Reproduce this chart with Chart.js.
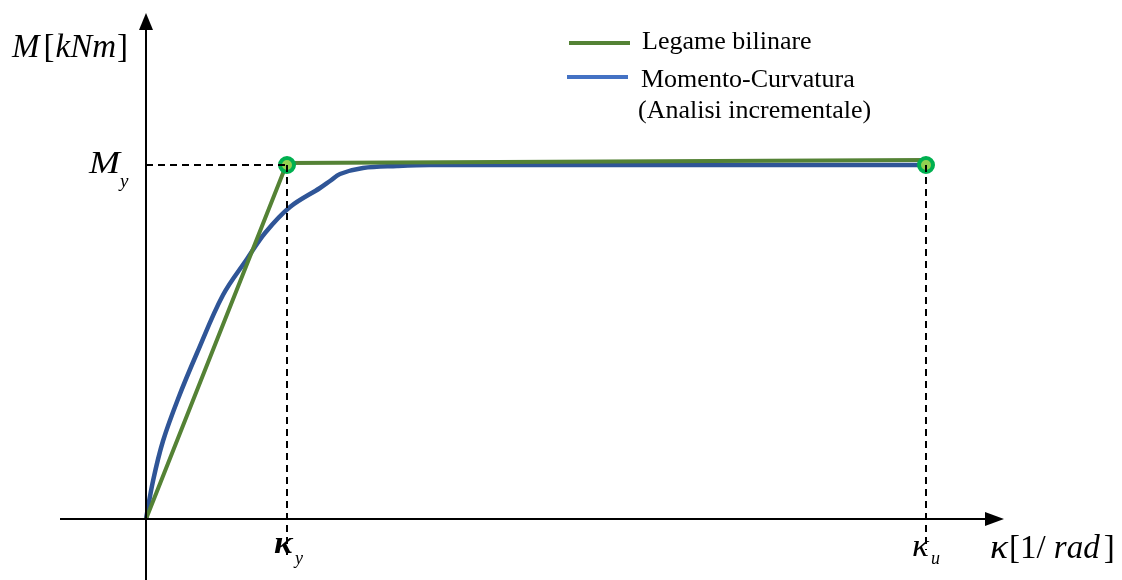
<!DOCTYPE html>
<html>
<head>
<meta charset="utf-8">
<script src="https://cdn.jsdelivr.net/npm/chart.js@4/dist/chart.umd.min.js"></script>
<style>
  html, body { margin: 0; padding: 0; background: #fff; }
  #wrap { width: 1122px; height: 580px; }
</style>
</head>
<body>
<div id="wrap"><canvas id="chart"></canvas></div>
<script>
// curvatura / momento (unita arbitrarie)
const kappaMC = [0, 0.07, 0.17, 0.32, 0.51, 0.77, 1.01, 1.19, 1.44, 1.74, 1.84, 1.94, 2.17, 2.51, 2.84, 7.80];
const momentMC = [0, 0.38, 0.78, 1.20, 1.66, 2.24, 2.60, 2.86, 3.12, 3.31, 3.38, 3.45, 3.51, 3.53, 3.54, 3.54];

const kappaBil = [0, 1.41, 7.80];
const momentBil = [0, 3.56, 3.59];

const kappaY = 1.41;
const kappaU = 7.80;
const My = 3.54;

const legendLabels = ['Legame bilinare', 'Momento-Curvatura', '(Analisi incrementale)'];

const toPts = (xs, ys) => xs.map((x, i) => ({ x: x, y: ys[i] }));

const serif = '"Liberation Serif", "Times New Roman", serif';

const overlay = {
  id: 'overlay',
  afterDraw(chart) {
    const ctx = chart.ctx;
    const xs = chart.scales.x, ys = chart.scales.y;
    const x0 = xs.getPixelForValue(0), y0 = ys.getPixelForValue(0);
    ctx.save();
    // assi
    ctx.strokeStyle = '#000';
    ctx.fillStyle = '#000';
    ctx.lineWidth = 2;
    ctx.beginPath();
    ctx.moveTo(x0, 580); ctx.lineTo(x0, 28);
    ctx.moveTo(60, y0); ctx.lineTo(988, y0);
    ctx.stroke();
    ctx.beginPath();
    ctx.moveTo(x0, 13); ctx.lineTo(x0 - 7, 30); ctx.lineTo(x0 + 7, 30); ctx.closePath();
    ctx.fill();
    ctx.beginPath();
    ctx.moveTo(1004, y0); ctx.lineTo(985, y0 - 7); ctx.lineTo(985, y0 + 7); ctx.closePath();
    ctx.fill();

    // etichette
    ctx.textBaseline = 'alphabetic';
    const put = (txt, x, y, size, style, sx) => {
      sx = sx || 1;
      ctx.font = style + ' ' + size + 'px ' + serif;
      ctx.save();
      ctx.translate(x, y);
      ctx.scale(sx, 1);
      ctx.fillText(txt, 0, 0);
      ctx.restore();
      return x + ctx.measureText(txt).width * sx;
    };
    let cx = put('M', 12, 57, 33, 'italic');
    cx = put('[', cx + 4, 57, 33, 'normal');
    cx = put('kNm', cx + 1, 57, 33, 'italic');
    put(']', cx + 1, 57, 33, 'normal');

    put('M', 89, 173, 31, 'italic', 1.2);
    put('y', 120, 187, 19, 'italic');

    put('\u03BA', 274, 553, 32, 'italic bold', 1.1);
    put('y', 295, 564, 18, 'italic');
    put('\u03BA', 912, 556, 32, 'italic', 1.1);
    put('u', 931, 564, 18, 'italic');

    cx = put('\u03BA', 990, 558, 34, 'italic', 1.1);
    cx = put('[1/ ', cx + 1, 558, 33, 'normal');
    cx = put('rad', cx, 558, 33, 'italic');
    put(']', cx + 4, 558, 33, 'normal');

    // legenda
    ctx.lineWidth = 4;
    ctx.strokeStyle = '#548235';
    ctx.beginPath(); ctx.moveTo(569, 43); ctx.lineTo(630, 43); ctx.stroke();
    ctx.strokeStyle = '#4472C4';
    ctx.beginPath(); ctx.moveTo(567, 77); ctx.lineTo(628, 77); ctx.stroke();
    put(legendLabels[0], 642, 49, 26, 'normal');
    put(legendLabels[1], 641, 87, 26, 'normal');
    put(legendLabels[2], 638, 118, 26, 'normal');
    ctx.restore();
  }
};

// il primo dataset viene disegnato sopra
new Chart(document.getElementById('chart'), {
  type: 'scatter',
  data: {
    datasets: [
      {
        label: 'dash h',
        data: toPts([0, kappaY], [My, My]),
        showLine: true, borderColor: '#000', borderWidth: 2, borderDash: [7, 5], pointRadius: 0
      },
      {
        label: 'dash ky',
        data: toPts([kappaY, kappaY], [My, -0.36]),
        showLine: true, borderColor: '#000', borderWidth: 2, borderDash: [7, 5], pointRadius: 0
      },
      {
        label: 'dash ku',
        data: toPts([kappaU, kappaU], [My, -0.31]),
        showLine: true, borderColor: '#000', borderWidth: 2, borderDash: [7, 5], pointRadius: 0
      },
      {
        label: 'punti',
        data: toPts([kappaY, kappaU], [My, My]),
        showLine: false, pointRadius: 7, pointBorderWidth: 4,
        pointBackgroundColor: '#92D050', pointBorderColor: '#00B050'
      },
      {
        label: 'Legame bilinare',
        data: toPts(kappaBil, momentBil),
        showLine: true, borderColor: '#548235', borderWidth: 4, pointRadius: 0
      },
      {
        label: 'Momento-Curvatura',
        data: toPts(kappaMC, momentMC),
        showLine: true, borderColor: '#2F5597', borderWidth: 4.5, pointRadius: 0,
        tension: 0.35
      }
    ]
  },
  options: {
    responsive: true,
    maintainAspectRatio: false,
    animation: false,
    layout: { padding: 0, autoPadding: false },
    plugins: { legend: { display: false }, tooltip: { enabled: false } },
    scales: {
      x: { type: 'linear', min: -1.46, max: 9.76, display: false },
      y: { type: 'linear', min: -0.61, max: 5.19, display: false }
    }
  },
  plugins: [overlay]
});
</script>
</body>
</html>
